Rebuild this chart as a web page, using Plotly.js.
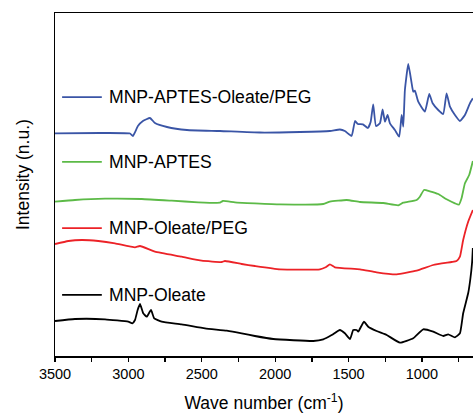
<!DOCTYPE html>
<html>
<head>
<meta charset="utf-8">
<script src="https://cdn.plot.ly/plotly-3.0.1.min.js"></script>
<style>html,body{margin:0;padding:0;background:#fff;}#chart{width:473px;height:413px;}</style>
</head>
<body>
<div id="chart"></div>
<script>
// Wave numbers (cm-1) and intensities (arbitrary units, stacked offsets)
const blueWn = [3500,3193,2989,2969,2935,2901,2853,2819,2737,2601,2376,2104,1831,1627,1559,1525,1479,1456,1436,1402,1368,1349,1332,1313,1286,1268,1252,1234,1218,1184,1155,1138,1127,1116,1093,1070,1059,1048,1025,980,950,927,889,855,832,809,775,741,707,673,653];
const blueI  = [222.7,223,222.5,220,230,235,238,233,229,226,225,223.5,224,225,226.5,225,220,235,232,231.7,228,234.3,251.7,230,232.7,246.7,234.3,241,232.7,226,219.3,241,229.3,266,292,272.7,264.3,265.3,254.3,244.3,262,252.7,246,242,262.7,249.3,241,235,241,252.7,257.7];

const greenWn = [3500,3364,3159,2909,2705,2524,2376,2356,2274,2138,1967,1672,1627,1513,1422,1264,1161,1127,1036,1014,986,946,889,832,775,748,730,707,678,653];
const greenI  = [154.3,156,157.3,157,155.3,153.7,153.3,155,153.7,152.7,151.7,152,154.3,156,154,153,150.7,153.3,156,159.3,166,164.7,162,156.7,152.7,151.3,157.7,172.7,181,195];

const redWn = [3500,3409,3318,3205,3091,2955,2921,2819,2637,2501,2364,2342,2228,2138,1967,1695,1656,1627,1593,1422,1309,1172,1036,923,798,764,741,719,685,653];
const redI  = [112,115,116,115,112.7,108.7,110,104.3,99.3,95.3,94,95,92,90,86.7,86.7,88.7,91.7,88.7,86.7,83.7,81.7,85.3,91,94,95,99.3,116,134.3,146];

const blackWn = [3500,3364,3159,3001,2973,2955,2937,2921,2899,2875,2846,2824,2773,2637,2478,2330,2228,2138,2013,1740,1672,1615,1559,1525,1490,1468,1445,1434,1395,1366,1309,1240,1150,1059,991,923,855,821,775,741,719,685,671,658,653];
const blackI  = [35,37,36.7,34.3,32.7,36,46,52,42.7,39.3,46,37.7,34.3,31.7,27.7,25.3,22.7,20,17,15,16.7,21,26,22.7,17,26,26,24.3,34.3,29.3,25,21,13.3,17.7,26.7,24.3,20,21.7,18.7,22.7,42.7,62.7,76,94,108];

const seriesNames = ["MNP-APTES-Oleate/PEG","MNP-APTES","MNP-Oleate/PEG","MNP-Oleate"];
const seriesColors = ["#3a55a6","#5cba47","#ec2227","#000000"];
const xTickVals = [3500,3000,2500,2000,1500,1000];

const allWn = [blueWn, greenWn, redWn, blackWn];
const allI = [blueI, greenI, redI, blackI];

const FONT = 'Liberation Sans, Arial, sans-serif';

const traces = allWn.map((wn, i) => ({
  x: wn, y: allI[i], type: 'scatter', mode: 'lines', name: seriesNames[i],
  line: {color: seriesColors[i], width: 1.8, shape: 'spline', smoothing: 0.4},
  showlegend: false, hoverinfo: 'skip'
}));

// in-plot labels (legend substitute)
const labelY = [0.755, 0.566, 0.373, 0.178];
const shapes = [];
const annotations = [];
labelY.forEach((py, i) => {
  shapes.push({type: 'line', xref: 'paper', yref: 'paper', x0: 0.017, x1: 0.112, y0: py, y1: py,
    line: {color: seriesColors[i], width: 1.8}});
  annotations.push({xref: 'paper', yref: 'paper', x: 0.124, y: py, xanchor: 'left', yanchor: 'middle',
    text: seriesNames[i], showarrow: false, font: {family: FONT, size: 17.6, color: '#000'}});
});
// y-axis title
annotations.push({xref: 'paper', yref: 'paper', x: -0.077, y: 0.53, xanchor: 'center', yanchor: 'middle',
  textangle: -90, text: 'Intensity (n.u.)', showarrow: false, font: {family: FONT, size: 17.5, color: '#000'}});

const layout = {
  width: 473, height: 413,
  margin: {l: 55, r: 0, t: 13, b: 57},
  paper_bgcolor: '#fff', plot_bgcolor: '#fff',
  font: {family: FONT, color: '#000'},
  xaxis: {
    range: [3500, 652], tickvals: xTickVals, ticktext: xTickVals.map(String),
    ticks: 'outside', ticklen: 4, tickwidth: 1.3, tickcolor: '#000',
    minor: {dtick: 250, tick0: 3500, ticks: 'outside', ticklen: 4, tickwidth: 1.3, tickcolor: '#000', showgrid: false},
    showline: true, linecolor: '#000', linewidth: 1.5, mirror: true,
    showgrid: false, zeroline: false,
    tickfont: {size: 14.5, color: '#000'},
    title: {text: 'Wave number (cm<sup>-1</sup>)', font: {size: 17.5, color: '#000'}, standoff: 17}
  },
  yaxis: {
    range: [0, 343], showticklabels: false, ticks: '',
    showline: true, linecolor: '#000', linewidth: 1.5, mirror: false,
    showgrid: false, zeroline: false
  },
  shapes: shapes,
  annotations: annotations
};

Plotly.newPlot('chart', traces, layout, {displayModeBar: false, staticPlot: true});
</script>
</body>
</html>
